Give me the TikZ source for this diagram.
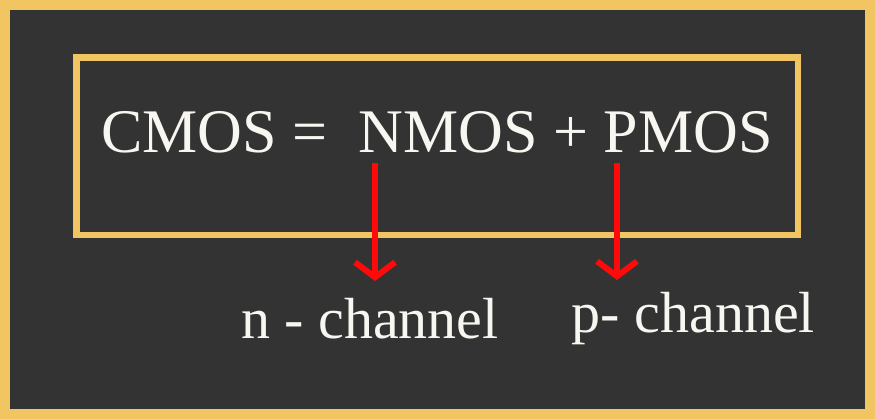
\documentclass[tikz,border=0pt]{standalone}
\usepackage{fontspec}
\setmainfont{Liberation Serif}
\usetikzlibrary{arrows.meta}
\definecolor{gold}{HTML}{F0C562}
\definecolor{darkbg}{HTML}{333333}
\definecolor{arrowred}{HTML}{FF0A0A}
\definecolor{textwhite}{HTML}{F8F6F0}
\tikzset{
  bigtext/.style={text=textwhite, font=\fontsize{62}{62}\selectfont, inner sep=0pt, anchor=base},
  labeltext/.style={text=textwhite, font=\fontsize{58}{58}\selectfont, inner sep=0pt, anchor=base},
  redarrow/.style={draw=arrowred, line width=6pt, -{Straight Barb[length=15pt,width=40pt]}},
  goldframe/.style={draw=gold, line width=6.8pt}
}
\begin{document}
\begin{tikzpicture}[x=1pt,y=-1pt]
  \useasboundingbox (0,0) rectangle (875,419);
  \fill[gold] (0,0) rectangle (875,419);
  \fill[darkbg] (10,10) rectangle (865,409);
  \draw[goldframe] (76.7,57.7) rectangle (798,235);
  \node[bigtext] (eq) at (437,153) {CMOS =\ \ NMOS + PMOS};
  \coordinate (nstart) at (375,163);
  \coordinate (nend) at (375,281);
  \coordinate (pstart) at (617,163);
  \coordinate (pend) at (617,280);
  \draw[redarrow] (nstart) -- (nend);
  \draw[redarrow] (pstart) -- (pend);
  \node[labeltext] (nch) at (370,338) {n - channel};
  \node[labeltext] (pch) at (693.5,333) {p- channel};
\end{tikzpicture}
\end{document}
